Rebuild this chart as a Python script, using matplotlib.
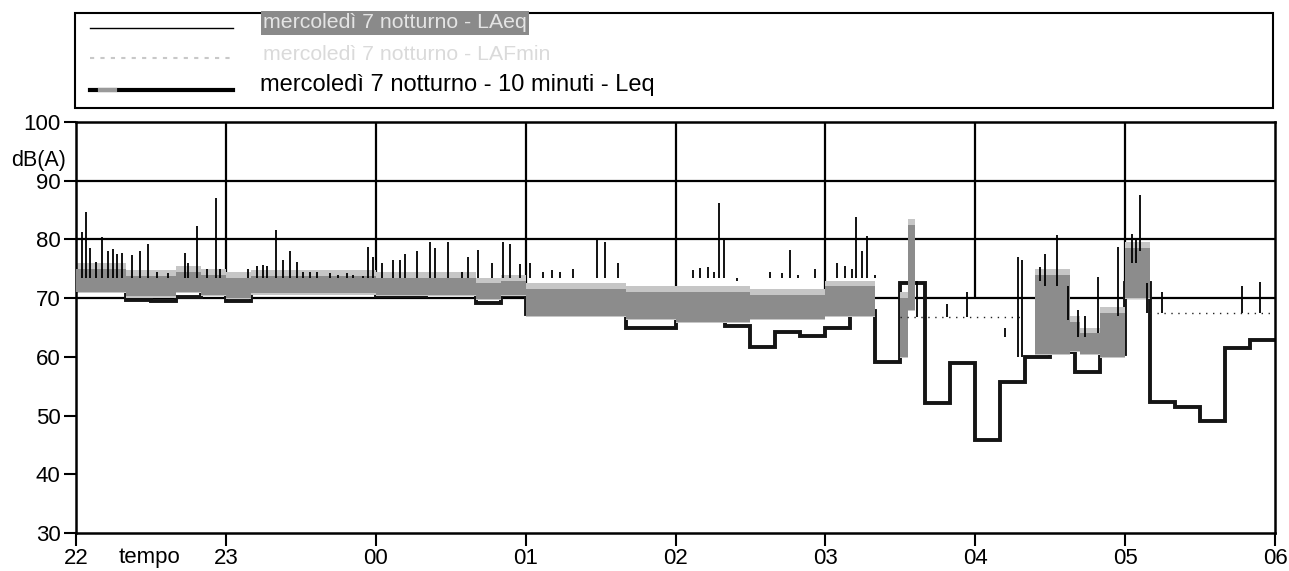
import numpy as np
import matplotlib.pyplot as plt
from matplotlib.patches import Rectangle
from matplotlib.lines import Line2D
import matplotlib.transforms as mtransforms

plt.rcParams['font.family'] = ['Liberation Sans', 'DejaVu Sans']

# time axis in minutes from 22:00
hour_ticks = [0, 60, 120, 180, 240, 300, 360, 420, 480]
hour_labels = ['22', '23', '00', '01', '02', '03', '04', '05', '06']
y_ticks = [30, 40, 50, 60, 70, 80, 90, 100]

# 10 minuti - Leq (one value every 10 minutes)
leq10 = [71.5, 71.5, 69.7, 69.5, 70.2, 71.3,
         69.5, 71.3, 71.5, 70.8, 70.8, 70.8,
         70.3, 70.3, 71.2, 70.8, 69.2, 70.5,
         67.3, 67.3, 67.3, 67.3, 65.0, 65.0,
         66.3, 66.3, 65.2, 61.7, 64.3, 63.6,
         65.0, 67.8, 59.1, 72.6, 52.1, 59.0,
         45.8, 55.7, 60.0, 60.8, 57.4, 60.5,
         72.5, 52.3, 51.5, 49.0, 61.5, 62.8]

# gray band (short-term level envelope)
band_start = [0, 20, 40, 50, 60, 70, 120, 160, 170, 180, 220, 240, 270, 300, 330, 333, 384, 398, 402, 410, 420]
band_end = [20, 40, 50, 60, 70, 120, 160, 170, 180, 220, 240, 270, 300, 320, 333, 336, 398, 402, 410, 420, 430]
band_lo = [71.0, 70.3, 71.0, 70.5, 70.0, 70.8, 70.5, 69.8, 70.5, 67.0, 66.5, 66.0, 66.5, 67.0,
           60.0, 68.0, 60.5, 61.0, 60.5, 60.0, 70.0]
band_hi = [75.0, 73.8, 74.5, 74.0, 73.5, 73.8, 73.5, 72.5, 73.0, 71.5, 71.0, 71.0, 70.5, 72.0,
           70.0, 82.5, 74.0, 66.0, 64.0, 67.5, 78.5]

# LAeq spikes (minute, bottom, top)
spike_t = [2.4, 4.0, 5.6, 8.0, 10.4, 12.8, 14.8, 16.4, 18.4, 22.4, 25.6, 28.8, 32.4, 36.8,
           43.6, 44.8, 48.4, 52.4, 56.0, 57.6, 68.9, 72.5, 74.9, 76.5, 80.1, 82.9, 85.7,
           88.5, 90.9, 93.7, 96.5, 101.7, 104.9, 108.5, 110.9, 114.9, 116.9, 118.9, 122.5,
           126.9, 129.7, 131.7, 136.5, 141.7, 143.7, 148.9, 154.5, 156.9, 160.9, 166.5,
           170.9, 173.7, 177.7, 181.7, 186.9, 190.5, 193.7, 198.9, 208.6, 211.8, 217.0,
           229.0, 247.0, 249.8, 253.0, 255.4, 257.4, 259.4, 264.6, 277.8, 282.6, 285.8,
           289.0, 295.8, 304.6, 307.8, 310.6, 312.2, 314.6, 316.6, 319.8,
           336.6, 348.7, 356.7, 371.9, 377.1, 378.7, 385.9, 387.9, 392.7, 397.1, 401.1,
           403.9, 409.1, 417.1, 422.7, 424.3, 425.9, 428.8, 434.7, 466.8, 474.0]
spike_lo = [73.5] * 81 + [66.8, 66.8, 66.8, 63.4, 60.0, 60.0, 73.0, 72.0, 72.0, 66.3, 63.4,
                          63.4, 64.0, 67.0, 76.0, 76.0, 78.0, 67.5, 67.5, 67.5, 67.5]
spike_hi = [81.3, 84.7, 78.5, 76.2, 80.4, 78.0, 78.3, 77.5, 77.7, 77.3, 78.0, 79.2, 74.5, 74.3,
            77.7, 76.0, 82.3, 75.0, 87.0, 75.0, 75.0, 75.4, 75.6, 75.4, 81.6, 76.5, 78.0,
            76.2, 74.5, 74.5, 74.5, 74.2, 74.0, 74.2, 74.0, 73.8, 78.7, 77.0, 76.0,
            76.5, 76.5, 77.5, 78.0, 79.5, 78.5, 79.6, 74.5, 77.0, 78.2, 76.0,
            79.6, 79.3, 75.8, 76.0, 74.5, 74.8, 74.5, 75.0, 80.2, 79.6, 76.0,
            73.5, 74.8, 75.2, 75.3, 74.5, 86.2, 80.0, 73.0, 74.5, 74.3, 78.2,
            74.0, 75.0, 76.0, 75.5, 75.0, 83.9, 78.0, 80.5, 74.0,
            73.0, 69.0, 71.0, 65.0, 77.0, 76.5, 75.3, 77.5, 80.7, 72.0, 68.0,
            67.0, 73.6, 78.7, 81.0, 80.0, 87.5, 72.6, 71.0, 72.0, 72.8]

# faint LAeq floor where no band is drawn
thin_start = [330, 430]
thin_end = [380, 478]
thin_val = [66.8, 67.5]

W, H = 1289, 571
fig = plt.figure(figsize=(W / 100, H / 100), dpi=100)
ax = fig.add_axes([76 / W, 1 - 533 / H, (1275 - 76) / W, (533 - 122) / H])

ax.hlines([70, 80, 90], 0, 480, color='k', lw=1.6, zorder=1)
ax.vlines(hour_ticks[1:-1], 70, 100, color='k', lw=1.6, zorder=1)

ax.stairs(leq10, np.arange(len(leq10) + 1) * 10, color='#151515', lw=2.8,
          baseline=None, zorder=2)

bs = np.array(band_start, float)
bw = np.array(band_end, float) - bs
lo = np.array(band_lo)
hi = np.array(band_hi)
ax.bar(bs, hi - lo + 1.2, width=bw, bottom=lo - 0.2, align='edge',
       color='#c6c6c6', lw=0, zorder=2.5)
ax.bar(bs, hi - lo, width=bw, bottom=lo, align='edge', color='#8c8c8c', lw=0, zorder=3)

ax.vlines(spike_t, spike_lo, spike_hi, color='k', lw=1.3, zorder=4)
ax.hlines(thin_val, thin_start, thin_end, colors='#222222', linestyles=(0, (1, 4)),
          lw=1.0, zorder=4)

ax.set_xlim(0, 480)
ax.set_ylim(30, 100)
ax.set_xticks(hour_ticks)
ax.set_xticklabels(hour_labels)
ax.set_yticks(y_ticks)
ax.tick_params(direction='out', length=9, width=1.5, labelsize=16, pad=2,
               colors='k')
for s in ax.spines.values():
    s.set_linewidth(1.8)
    s.set_color('k')

trans_y = mtransforms.blended_transform_factory(ax.transAxes, ax.transData)
ax.text(-0.008, 93.5, 'dB(A)', transform=trans_y, ha='right', va='center', fontsize=15.5)
trans_x = mtransforms.blended_transform_factory(ax.transData, ax.transAxes)
ax.text(29.6, -0.034, 'tempo', transform=trans_x, ha='center', va='top', fontsize=16)

# legend box
fig.add_artist(Rectangle((75 / W, 1 - 108 / H), (1273 - 75) / W, (108 - 13) / H,
                         transform=fig.transFigure, fill=False, lw=1.5, ec='k'))
fig.add_artist(Line2D([90 / W, 233 / W], [1 - 28 / H] * 2, color='k', lw=1.0))
fig.add_artist(Line2D([90 / W, 233 / W], [1 - 58 / H] * 2, color='#c8c8c8', lw=1.5,
                      ls=(0, (2, 3))))
fig.add_artist(Line2D([90 / W, 233 / W], [1 - 90 / H] * 2, color='k', lw=3.0))
fig.add_artist(Line2D([100 / W, 115 / W], [1 - 90 / H] * 2, color='#999999', lw=3.0))
fig.text(263 / W, 1 - 23 / H, 'mercoledì 7 notturno - LAeq', va='center', ha='left',
         color='#e4e4e4', fontsize=15.3,
         bbox=dict(facecolor='#8a8a8a', edgecolor='none', pad=1.5))
fig.text(263 / W, 1 - 55 / H, 'mercoledì 7 notturno - LAFmin', va='center', ha='left',
         color='#dadada', fontsize=15.3)
fig.text(260 / W, 1 - 85 / H, 'mercoledì 7 notturno - 10 minuti - Leq', va='center',
         ha='left', color='k', fontsize=17)

fig.savefig('out.png', dpi=100)
